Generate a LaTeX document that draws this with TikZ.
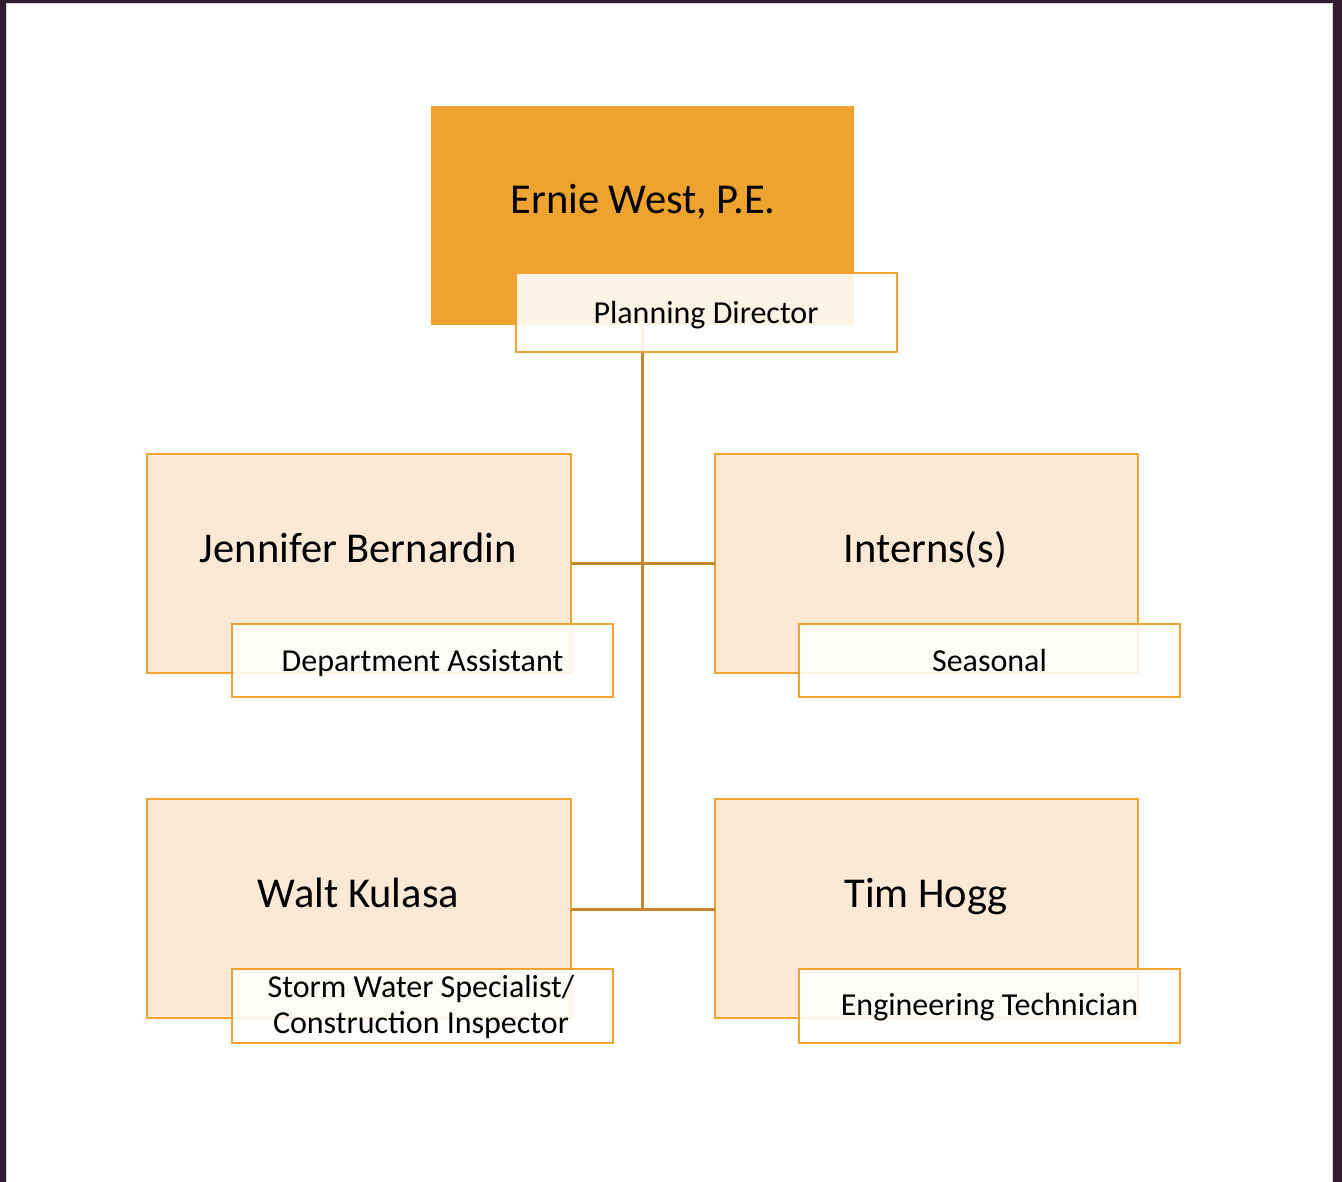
\documentclass[tikz,border=0pt]{standalone}
\usepackage{fontspec}
\setmainfont{Carlito}
\definecolor{frame}{HTML}{321B2F}
\definecolor{topfill}{HTML}{EFA32F}
\definecolor{boxfill}{HTML}{FBE9D5}
\definecolor{boxline}{HTML}{F0A330}
\definecolor{linkc}{HTML}{C7862A}
\begin{document}
\begin{tikzpicture}[x=1pt,y=-1pt,
  headbox/.style={fill=topfill,draw=none},
  mainbox/.style={fill=boxfill,draw=boxline,line width=2.7pt},
  rolebox/.style={fill=white,fill opacity=0.88,draw=boxline,line width=2.7pt},
  nametext/.style={font=\fontsize{42.5}{46}\selectfont,text=black,inner sep=0pt,
    text height=27.4pt,text depth=0pt},
  roletext/.style={font=\fontsize{32}{36}\selectfont,text=black,align=center,inner sep=0pt,
    text height=20.6pt,text depth=0pt},
  link/.style={draw=linkc,line width=3pt}]
% page and outer frame
\useasboundingbox (0,0) rectangle (1342,1182);
\fill[frame] (0,0) rectangle (1342,1182);
\fill[white!80!frame] (6,3) rectangle (1333,1182);
\fill[white] (7,4) rectangle (1332,1182);
% connector anchor points
\coordinate (top) at (642,325);
\coordinate (midB) at (642,909);
% boxes
\path[headbox] (431,106) rectangle (854,325);
\path[mainbox] (147,454) rectangle (571,673);
\path[mainbox] (715,454) rectangle (1138,673);
\path[mainbox] (147,799) rectangle (571,1018);
\path[mainbox] (715,799) rectangle (1138,1018);
\coordinate (ja) at (571,563);
\coordinate (ia) at (715,563);
\coordinate (wa) at (571,909);
\coordinate (ta) at (715,909);
\draw[link] (top) -- (midB);
\draw[link] (ja) -- (ia);
\draw[link] (wa) -- (ta);
% role boxes
\path[rolebox] (516,273) rectangle (897,352);
\path[rolebox] (232,624) rectangle (613,697);
\path[rolebox] (799,624) rectangle (1180,697);
\path[rolebox] (232,969) rectangle (613,1043);
\path[rolebox] (799,969) rectangle (1180,1043);
% names
\node[nametext] (ernie) at (643,199.5) {Ernie West, P.E.};
\node[nametext] (jen) at (358.5,548.5) {Jennifer Bernardin};
\node[nametext] (int) at (925.5,548.5) {Interns(s)};
\node[nametext] (walt) at (358.5,893.5) {Walt Kulasa};
\node[nametext] (tim) at (926,893.5) {Tim Hogg};
% roles
\node[roletext] (pd) at (706,313) {Planning Director};
\node[roletext] (da) at (422.5,661) {Department Assistant};
\node[roletext] (se) at (989.5,661) {Seasonal};
\node[font=\fontsize{32}{35.5}\selectfont,text=black,align=center,inner sep=0pt,anchor=base] (sw) at (421,1033) {Storm Water Specialist/\\Construction Inspector};
\node[roletext] (et) at (989.5,1005) {Engineering Technician};
\end{tikzpicture}
\end{document}
